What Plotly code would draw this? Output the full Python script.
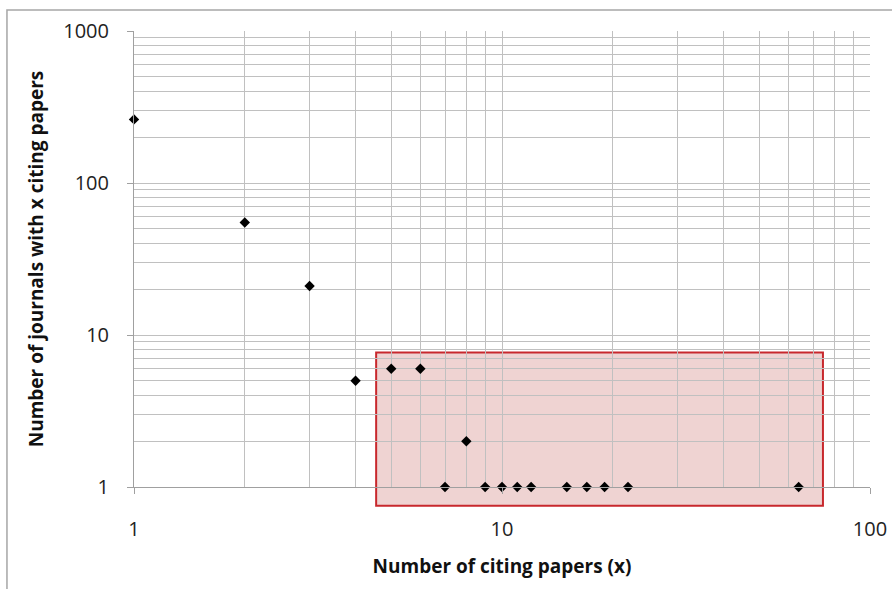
import plotly.graph_objects as go
import math

# Data
citing_papers = [1, 2, 3, 4, 5, 6, 7, 8, 9, 10, 11, 12, 15, 17, 19, 22, 64]
journals = [262, 55, 21, 5, 6, 6, 1, 2, 1, 1, 1, 1, 1, 1, 1, 1, 1]
x_tick_vals = [1, 10, 100]
y_tick_vals = [1, 10, 100, 1000]
x_title = "Number of citing papers (x)"
y_title = "Number of journals with x citing papers"

# highlight box (data units)
box_x = [4.55, 74.5]
box_y = [0.753, 7.67]

y_range_log = [0, 3]

fig = go.Figure()
fig.add_trace(go.Scatter(
    x=citing_papers, y=journals, mode="markers",
    marker=dict(symbol="diamond", size=8, color="black"),
    cliponaxis=False, showlegend=False,
))

def ypaper(v):
    return (math.log10(v) - y_range_log[0]) / (y_range_log[1] - y_range_log[0])

fig.add_shape(type="rect", xref="x", yref="paper",
              x0=box_x[0], x1=box_x[1], y0=ypaper(box_y[0]), y1=ypaper(box_y[1]),
              fillcolor="rgba(192,80,77,0.25)", line=dict(color="#C8282D", width=2),
              layer="between")

# outer chart border
fig.add_shape(type="rect", xref="paper", yref="paper",
              x0=-0.1726, x1=1.05, y0=-0.4, y1=1.046,
              line=dict(color="#a6a6a6", width=1.5), fillcolor="rgba(0,0,0,0)")

grid = "#c0c0c0"
axfont = dict(family="Open Sans", size=20, color="#222")
titlefont = dict(family="Open Sans", size=19, color="#111", weight="bold")
fig.update_xaxes(
    type="log", range=[0, 2], automargin=False,
    tickvals=x_tick_vals, ticktext=[str(v) for v in x_tick_vals],
    ticks="outside", ticklen=6, tickcolor="#a0a0a0",
    showline=True, linecolor="#a0a0a0", linewidth=1,
    showgrid=True, gridcolor=grid, gridwidth=1,
    minor=dict(dtick="D1", showgrid=True, gridcolor=grid, ticklen=0),
    tickfont=axfont, ticklabelstandoff=18,
    title=dict(text=x_title, font=titlefont, standoff=18),
    zeroline=False,
)
fig.update_yaxes(
    type="log", range=y_range_log, automargin=False,
    tickvals=y_tick_vals, ticktext=[str(v) for v in y_tick_vals],
    ticks="outside", ticklen=6, tickcolor="#a0a0a0",
    showline=True, linecolor="#a0a0a0", linewidth=1,
    showgrid=True, gridcolor=grid, gridwidth=1,
    minor=dict(dtick="D1", showgrid=True, gridcolor=grid, ticklen=0),
    tickfont=axfont, ticklabelstandoff=14,
    title=dict(text=y_title, font=titlefont, standoff=14),
    zeroline=False,
)
fig.update_layout(
    width=892, height=589,
    margin=dict(l=134, r=22, t=31, b=102, autoexpand=False),
    paper_bgcolor="white", plot_bgcolor="white",
)
fig.write_html("out.html", config={"displayModeBar": False},
               post_script="document.body.style.margin='0';document.body.style.overflow='hidden';")
